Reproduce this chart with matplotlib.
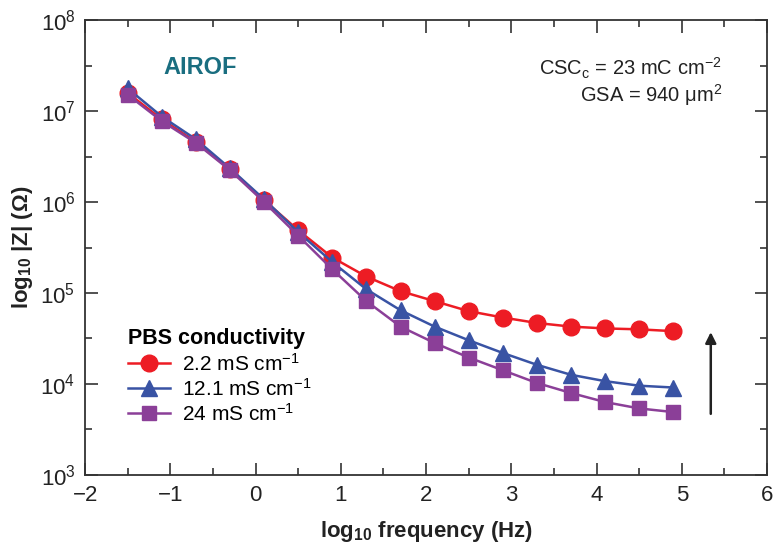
import numpy as np
import matplotlib
matplotlib.use("Agg")
import matplotlib.pyplot as plt
from matplotlib.ticker import MultipleLocator, FixedLocator, FixedFormatter

plt.rcParams['font.family'] = ['Liberation Sans', 'DejaVu Sans']
plt.rcParams['mathtext.fontset'] = 'custom'
plt.rcParams['mathtext.rm'] = 'Liberation Sans'
plt.rcParams['mathtext.it'] = 'Liberation Sans:italic'
plt.rcParams['mathtext.bf'] = 'Liberation Sans:bold'

# log10 frequency (Hz)
log_freq = [-1.5, -1.1, -0.7, -0.3, 0.1, 0.5, 0.9, 1.3, 1.7,
            2.1, 2.5, 2.9, 3.3, 3.7, 4.1, 4.5, 4.9]

# log10 |Z|
z_2_2 = [7.20, 6.91, 6.66, 6.36, 6.02, 5.69, 5.39, 5.18, 5.02,
         4.91, 4.80, 4.73, 4.67, 4.63, 4.61, 4.60, 4.58]
z_12_1 = [7.25, 6.94, 6.69, 6.37, 6.03, 5.67, 5.34, 5.04, 4.81,
          4.63, 4.48, 4.34, 4.21, 4.10, 4.03, 3.98, 3.96]
z_24 = [7.18, 6.89, 6.65, 6.35, 6.00, 5.63, 5.26, 4.91, 4.63,
        4.45, 4.29, 4.15, 4.01, 3.90, 3.80, 3.73, 3.69]

series_labels = [r'2.2 mS cm$^{-1}$', r'12.1 mS cm$^{-1}$', r'24 mS cm$^{-1}$']
colors = ['#ed1c24', '#3953a4', '#8b3f98']

fig = plt.figure(figsize=(7.74, 5.47), dpi=100)
ax = fig.add_axes([0.110, 0.132, 0.881, 0.831])

ax.plot(log_freq, 10 ** np.array(z_2_2), '-o', color=colors[0], lw=1.8,
        ms=12, label=series_labels[0])
ax.plot(log_freq, 10 ** np.array(z_12_1), '-^', color=colors[1], lw=1.8,
        ms=11, label=series_labels[1])
ax.plot(log_freq, 10 ** np.array(z_24), '-s', color=colors[2], lw=1.8,
        ms=9.5, label=series_labels[2])

ax.set_yscale('log')
ax.set_xlim(-2, 6)
ax.set_ylim(1e3, 1e8)

ax.xaxis.set_major_locator(MultipleLocator(1))
ax.xaxis.set_minor_locator(MultipleLocator(0.5))
decades = [3, 4, 5, 6, 7, 8]
ax.yaxis.set_major_locator(FixedLocator([10.0 ** d for d in decades]))
ax.yaxis.set_major_formatter(FixedFormatter([r'10$^{%d}$' % d for d in decades]))
ax.yaxis.set_minor_locator(FixedLocator([10.0 ** (d + 0.5) for d in decades[:-1]]))
ax.yaxis.set_minor_formatter(FixedFormatter([''] * 5))

ax.tick_params(which='both', direction='in', top=True, right=True,
               color='#333333', width=1.2, labelsize=16, labelcolor='#222222')
ax.tick_params(which='major', length=9, pad=7)
ax.tick_params(which='minor', length=5)
for s in ax.spines.values():
    s.set_linewidth(1.3)
    s.set_color('#333333')

ax.set_xlabel(r'log$_{\mathbf{10}}$ frequency (Hz)', fontsize=16,
              fontweight='bold', color='#222222', labelpad=10)
ax.set_ylabel(r'log$_{\mathbf{10}}$ |Z| ($\mathbf{\Omega}$)', fontsize=16,
              fontweight='bold', color='#222222', labelpad=4)

ax.text(-0.65, 10 ** 7.48, 'AIROF', color='#1a6e80', fontsize=17,
        fontweight='bold', ha='center', va='center')
ax.text(5.47, 10 ** 7.47, r'CSC$_\mathrm{c}$ = 23 mC cm$^{-2}$', fontsize=14.5,
        color='#222222', ha='right', va='center')
ax.text(5.47, 10 ** 7.18, r'GSA = 940 μm$^{2}$', fontsize=14.5,
        color='#222222', ha='right', va='center')

ax.annotate('', xy=(5.34, 10 ** 4.6), xytext=(5.34, 10 ** 3.64),
            arrowprops=dict(arrowstyle='-|>', color='#222222', lw=1.8,
                            mutation_scale=16))

leg = ax.legend(loc='upper left', bbox_to_anchor=(0.063, 0.322), frameon=False,
                fontsize=15, title='PBS conductivity', handlelength=2.0,
                handletextpad=0.6, labelspacing=0.15, borderaxespad=0,
                borderpad=0)
leg.get_title().set_fontweight('bold')
leg.get_title().set_fontsize(15.5)
leg._legend_box.align = 'left'

fig.savefig('out.png', dpi=100)
